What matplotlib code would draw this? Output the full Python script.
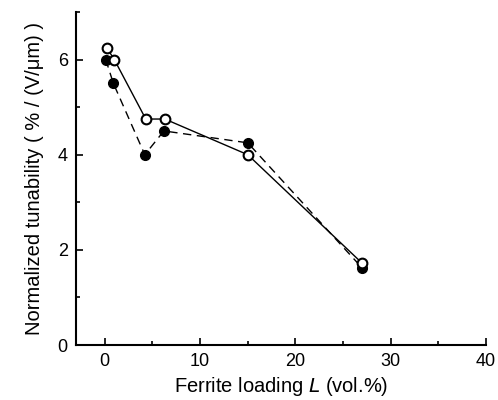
import matplotlib
matplotlib.use("Agg")
import matplotlib.pyplot as plt
from matplotlib.ticker import MultipleLocator

plt.rcParams['font.family'] = ['Liberation Sans', 'DejaVu Sans']

filled_x = [0.1, 0.9, 4.2, 6.2, 15.0, 27.0]
filled_y = [6.0, 5.5, 4.0, 4.5, 4.25, 1.62]
open_x = [0.2, 1.0, 4.3, 6.3, 15.0, 27.0]
open_y = [6.25, 6.0, 4.75, 4.75, 4.0, 1.72]

fig = plt.figure(figsize=(4.98, 4.0), dpi=100)
ax = fig.add_axes([0.153, 0.1375, 0.823, 0.8325])

ax.plot(filled_x, filled_y, color='black', linestyle=(0, (6, 4)), linewidth=1.0,
        marker='o', markersize=7, markerfacecolor='black', markeredgecolor='black', zorder=3)
ax.plot(open_x, open_y, color='black', linestyle='-', linewidth=1.0,
        marker='o', markersize=7, markerfacecolor='white', markeredgecolor='black',
        markeredgewidth=1.5, zorder=4)

ax.set_xlim(-3, 40)
ax.set_ylim(0, 7)
ax.xaxis.set_major_locator(MultipleLocator(10))
ax.xaxis.set_minor_locator(MultipleLocator(5))
ax.yaxis.set_major_locator(MultipleLocator(2))
ax.yaxis.set_minor_locator(MultipleLocator(1))
ax.tick_params(which='both', direction='in', width=1.2, labelsize=13, pad=6)
ax.tick_params(which='major', length=5)
ax.tick_params(which='minor', length=3)
for s in ['top', 'right']:
    ax.spines[s].set_visible(False)
for s in ['left', 'bottom']:
    ax.spines[s].set_linewidth(1.5)

ax.set_xlabel('Ferrite loading $\\it{L}$ (vol.%)', fontsize=14.5, labelpad=3)
ax.set_ylabel('Normalized tunability ( % / (V/\u03bcm) )', fontsize=14.5, labelpad=10)

fig.savefig('out.png', dpi=100)
